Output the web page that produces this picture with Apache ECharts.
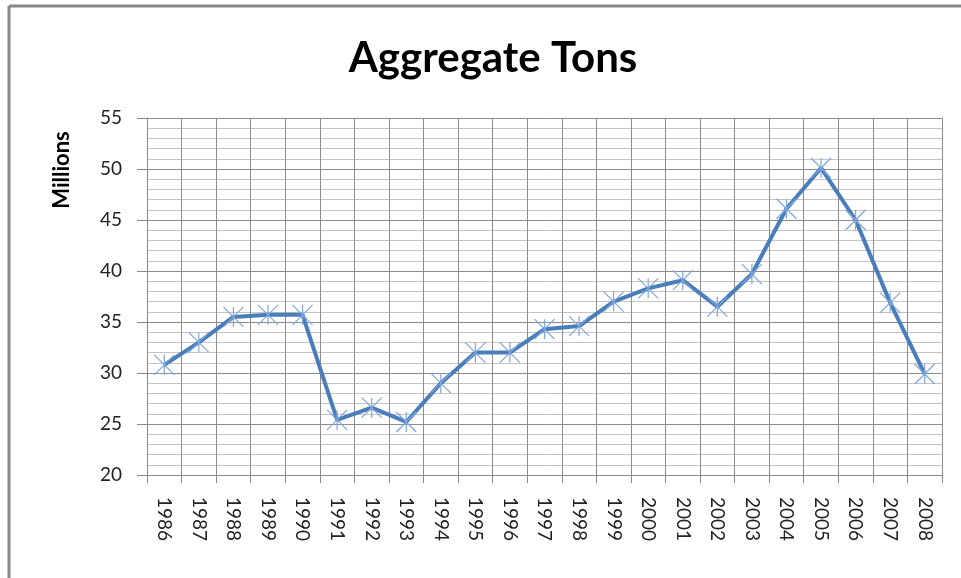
<!DOCTYPE html>
<html>
<head>
<meta charset="utf-8">
<script src="https://cdn.jsdelivr.net/npm/echarts@6/dist/echarts.min.js"></script>
<style>
  html, body { margin: 0; padding: 0; background: #fff; }
  #chart { width: 961px; height: 578px; }
</style>
</head>
<body>
<div id="chart"></div>
<script>
// years on the x axis
var years = ["1986", "1987", "1988", "1989", "1990", "1991", "1992", "1993", "1994", "1995", "1996", "1997",
  "1998", "1999", "2000", "2001", "2002", "2003", "2004", "2005", "2006", "2007", "2008"];
// aggregate tons, millions
var tons = [30.8, 33.0, 35.5, 35.7, 35.7, 25.4, 26.6, 25.2, 29.0, 32.0, 32.0, 34.3,
  34.6, 37.0, 38.3, 39.1, 36.5, 39.7, 46.1, 50.1, 45.0, 36.9, 29.9];

var font = "Lato, 'Open Sans', sans-serif";
var myChart = echarts.init(document.getElementById("chart"));

var option = {
  backgroundColor: "#fff",
  animation: false,
  title: {
    text: "Aggregate Tons",
    left: 488,
    top: 32,
    textAlign: "center",
    textStyle: { fontFamily: font, fontSize: 42, fontWeight: "bold", color: "#000" },
  },
  graphic: [
    // chart frame (left and top edges only visible)
    { type: "line", shape: { x1: 9, y1: 6, x2: 961, y2: 6 }, style: { stroke: "#888", lineWidth: 3 } },
    { type: "line", shape: { x1: 9, y1: 6, x2: 9, y2: 578 }, style: { stroke: "#888", lineWidth: 3 } },
    {
      type: "text",
      x: 62,
      y: 170,
      rotation: Math.PI / 2,
      style: {
        text: "Millions",
        font: "bold 22px " + font,
        fill: "#000",
        textAlign: "center",
        textVerticalAlign: "middle",
      },
    },
  ],
  grid: { left: 147, right: 19, top: 118, bottom: 103 },
  xAxis: {
    type: "category",
    data: years,
    boundaryGap: true,
    axisLine: { lineStyle: { color: "#888", width: 1 } },
    axisTick: { show: true, length: 8, interval: 0, lineStyle: { color: "#888" } },
    axisLabel: { rotate: -90, interval: 0, margin: 22, fontFamily: font, fontSize: 19, color: "#222" },
    splitLine: { show: true, interval: 0, lineStyle: { color: "#8c8c8c", width: 1 } },
  },
  yAxis: {
    type: "value",
    min: 20,
    max: 55,
    interval: 5,
    axisLine: { show: true, lineStyle: { color: "#888" } },
    axisTick: { show: true, length: 10, lineStyle: { color: "#888" } },
    axisLabel: { margin: 25, fontFamily: font, fontSize: 19, color: "#222" },
    splitLine: { show: true, lineStyle: { color: "#8c8c8c", width: 1 } },
    minorTick: { show: false, splitNumber: 5 },
    minorSplitLine: { show: true, lineStyle: { color: "#c4c4c4", width: 1 } },
  },
  series: [
    {
      type: "line",
      data: tons,
      lineStyle: { color: "#4a7ebb", width: 4 },
      symbol: "path://M0,0 L10,10 M10,0 L0,10 M5,0 L5,10",
      symbolSize: 20,
      symbolKeepAspect: true,
      itemStyle: { color: "none", borderColor: "#7fa6dc", borderWidth: 1.2 },
      z: 3,
    },
  ],
};

myChart.setOption(option);
</script>
</body>
</html>
